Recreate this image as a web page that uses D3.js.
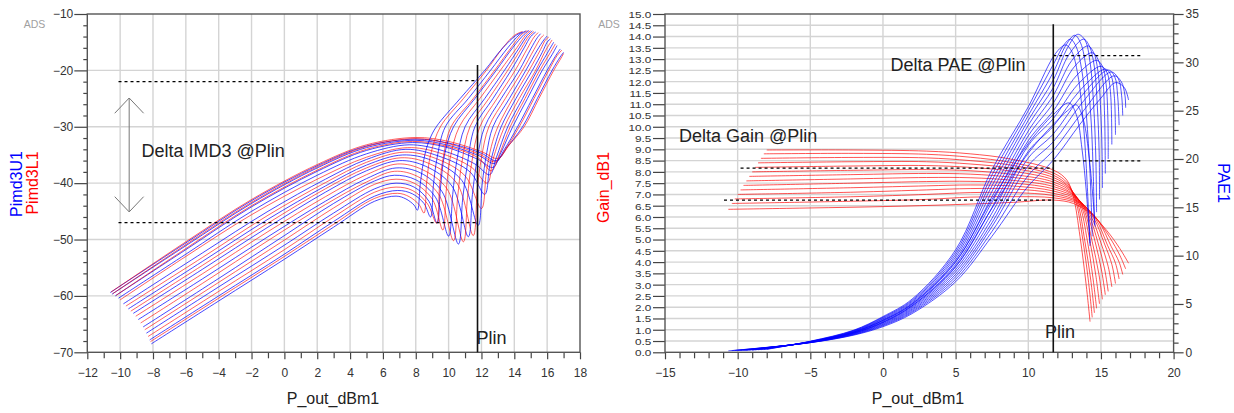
<!DOCTYPE html>
<html><head><meta charset="utf-8">
<script src="https://cdn.jsdelivr.net/npm/d3@7"></script>
<style>
body{margin:0;background:#fff;}
svg{display:block;font-family:"Liberation Sans",Arial,sans-serif;}
</style></head><body>
<svg id="c" width="1234" height="413"></svg>
<script>
// ---------------- DATA ----------------
// Left panel: x = P_out_dBm1, y = Pimd3U1 (blue) / Pimd3L1 (red), dBc
const leftXTicks = [-12,-10,-8,-6,-4,-2,0,2,4,6,8,10,12,14,16,18];
const leftYTicks = [-70,-60,-50,-40,-30,-20,-10];
const imd3U = [
 [[-10.6,-59.4],[-6,-50.6],[-2,-43.1],[2,-36.9],[5,-33.4],[8,-32.2],[10,-32.9],[12,-34.7],[12.9,-36.0],[13.6,-33.5],[14.5,-30],[15.4,-25],[16.3,-20],[16.8,-17.6],[17.0,-16.8]],
 [[-10.5,-59.7],[-6,-51.1],[-2,-43.6],[2,-37.3],[5,-33.7],[8,-32.4],[10,-33.3],[11.9,-35.2],[12.8,-36.5],[13.4,-34],[14.2,-30],[15.1,-25],[16.0,-20],[16.5,-17.5],[16.8,-16.2]],
 [[-10.3,-60.0],[-6,-51.8],[-2,-44.2],[2,-37.9],[5,-34.2],[7.8,-32.8],[9.8,-33.6],[11.8,-35.8],[12.7,-37.2],[13.2,-34.5],[13.9,-30],[14.8,-25],[15.7,-20],[16.3,-17.2],[16.6,-15.6]],
 [[-10.1,-60.4],[-6,-52.6],[-2,-45.0],[2,-38.6],[5,-34.8],[7.6,-33.2],[9.6,-34.2],[11.6,-36.6],[12.5,-38.5],[12.9,-35.5],[13.6,-30],[14.5,-25],[15.4,-20],[16.0,-17],[16.4,-15.0]],
 [[-9.8,-61.4],[-5,-52.4],[-1,-45.0],[2.5,-39.3],[5,-35.8],[7.4,-34.0],[9.4,-35.2],[11.3,-38.0],[12.2,-42.0],[12.5,-37],[12.8,-33.5],[13.2,-30],[14.1,-25],[15.1,-20],[15.7,-16.8],[16.0,-15.0],[16.2,-14.4]],
 [[-9.5,-62.3],[-5,-53.9],[-1,-46.4],[2.5,-40.5],[5,-36.8],[7.2,-35.0],[9,-36.0],[10.8,-39.5],[11.8,-47.5],[12.05,-40],[12.3,-35],[12.7,-30],[13.7,-25],[14.7,-20],[15.4,-16.4],[15.8,-14.6],[16.0,-13.9]],
 [[-9.2,-63.1],[-5,-55.3],[-1,-47.8],[2.5,-41.6],[5,-37.8],[7.0,-36.0],[8.6,-37.0],[10.2,-40.5],[11.2,-49.5],[11.45,-42],[11.75,-35.5],[12.2,-30],[13.2,-25],[14.3,-20],[15.0,-16.2],[15.4,-14.2],[15.6,-13.5]],
 [[-8.9,-64.2],[-5,-57.0],[-1,-49.5],[2.5,-43.2],[5,-39.2],[6.8,-37.3],[8.3,-38.2],[9.6,-41.5],[10.6,-50.8],[10.85,-43],[11.1,-37.5],[11.6,-30],[12.7,-25],[13.8,-20],[14.6,-16],[15.0,-14],[15.3,-13.2]],
 [[-8.6,-65.5],[-4,-56.9],[0,-49.3],[3,-43.6],[5.5,-39.6],[6.7,-38.6],[8,-39.4],[9.2,-42.5],[10.0,-49.4],[10.25,-42],[10.5,-36],[11.0,-30],[12.2,-25],[13.4,-20],[14.3,-16],[14.8,-13.8],[15.1,-13.0]],
 [[-8.4,-66.6],[-4,-58.4],[0,-51.0],[3,-45.3],[5.5,-41.0],[6.8,-40.0],[7.9,-40.7],[8.8,-43.2],[9.3,-47.1],[9.5,-41],[9.75,-35],[10.3,-30],[11.6,-25],[12.9,-20],[13.9,-16],[14.6,-13.6],[14.9,-12.9]],
 [[-8.2,-67.8],[-4,-60.0],[0,-52.6],[3,-46.8],[5.5,-42.3],[6.9,-41.3],[7.8,-41.9],[8.5,-43.6],[8.9,-46.0],[9.07,-40.5],[9.3,-35.5],[9.8,-30],[11.2,-25],[12.55,-20],[13.6,-16],[14.3,-13.7],[14.7,-13.0]],
 [[-8.1,-68.5],[-4,-60.9],[0,-53.5],[3,-47.8],[5.5,-43.2],[6.8,-42.3],[7.4,-42.8],[7.9,-43.9],[8.1,-44.8],[8.28,-40],[8.55,-35],[8.85,-32.2],[9.25,-30],[10.7,-25],[12.2,-20],[13.3,-16],[14.1,-13.8],[14.5,-13.2]]
];
const imd3L = [
 [[-10.55,-59.3],[-6,-50.4],[-2,-42.9],[2,-36.7],[5,-33.2],[8,-31.9],[10,-32.6],[12,-34.4],[13.0,-35.6],[13.7,-33.2],[14.6,-30],[15.5,-25],[16.4,-20],[16.85,-17.8],[17.0,-17.0]],
 [[-10.45,-59.6],[-6,-50.9],[-2,-43.4],[2,-37.1],[5,-33.5],[8,-32.1],[10,-33.0],[11.9,-34.9],[12.85,-36.2],[13.5,-33.8],[14.3,-30],[15.2,-25],[16.1,-20],[16.6,-17.4],[16.9,-16.4]],
 [[-10.25,-59.9],[-6,-51.6],[-2,-44.0],[2,-37.7],[5,-34.0],[7.8,-32.6],[9.8,-33.4],[11.8,-35.5],[12.6,-37.8],[13.1,-34.8],[13.75,-30],[14.65,-25],[15.55,-20],[16.2,-16.8],[16.5,-15.3]],
 [[-10.0,-60.7],[-6,-53.0],[-2,-45.6],[2,-39.3],[5,-35.4],[7.5,-33.7],[9.4,-34.6],[11.4,-37.2],[12.35,-40.0],[12.7,-35.8],[13.4,-30],[14.3,-25],[15.3,-20],[15.9,-16.5],[16.3,-14.6]],
 [[-9.65,-61.8],[-5,-53.2],[-1,-45.7],[2.5,-39.9],[5,-36.3],[7.3,-34.5],[9.2,-35.6],[11.0,-38.7],[12.0,-44.5],[12.3,-38],[12.6,-33.5],[13.0,-30],[13.9,-25],[14.9,-20],[15.6,-16.3],[15.9,-14.6],[16.1,-14.1]],
 [[-9.35,-62.7],[-5,-54.6],[-1,-47.1],[2.5,-41.0],[5,-37.3],[7.1,-35.5],[8.8,-36.5],[10.5,-40.0],[11.5,-49.3],[11.75,-41],[12.0,-35.5],[12.45,-30],[13.45,-25],[14.5,-20],[15.2,-16.3],[15.6,-14.3],[15.8,-13.7]],
 [[-9.05,-63.6],[-5,-56.1],[-1,-48.6],[2.5,-42.4],[5,-38.5],[6.9,-36.6],[8.4,-37.6],[9.9,-41.0],[10.9,-50.4],[11.15,-42.5],[11.4,-36.5],[11.9,-30],[12.95,-25],[14.05,-20],[14.8,-16.1],[15.2,-14.1],[15.45,-13.3]],
 [[-8.75,-64.8],[-5,-57.8],[-1,-50.2],[2.5,-43.8],[5,-39.8],[6.7,-37.9],[8.1,-38.8],[9.4,-42.0],[10.3,-50.2],[10.55,-42.5],[10.8,-36.5],[11.3,-30],[12.45,-25],[13.6,-20],[14.45,-16],[14.9,-13.9],[15.2,-13.1]],
 [[-8.5,-66.0],[-4,-57.6],[0,-50.1],[3,-44.4],[5.5,-40.2],[6.8,-39.3],[7.9,-40.0],[9.0,-42.8],[9.65,-48.3],[9.85,-41.5],[10.1,-35.5],[10.65,-30],[11.9,-25],[13.15,-20],[14.15,-16],[14.7,-13.7],[15.0,-12.95]],
 [[-8.3,-67.2],[-4,-59.2],[0,-51.8],[3,-46.0],[5.5,-41.6],[6.8,-40.7],[7.8,-41.3],[8.7,-43.6],[9.27,-47.1],[9.45,-40.5],[9.7,-35],[10.15,-30],[11.5,-25],[12.8,-20],[13.8,-16],[14.45,-13.6],[14.8,-12.95]],
 [[-8.15,-68.1],[-4,-60.4],[0,-53.0],[3,-47.3],[5.5,-42.7],[6.9,-41.8],[7.6,-42.4],[8.2,-43.8],[8.5,-45.3],[8.66,-40],[8.9,-35],[9.5,-30],[10.9,-25],[12.3,-20],[13.3,-16],[14.0,-13.8],[14.5,-13.1]]
];
const plinL = [[11.76,-19.05],[11.76,-70]];
const imdRefTopA = [[-10.1,-22.0],[8.1,-22.0]];
const imdRefTopB = [[8.1,-21.8],[11.76,-21.8]];
const imdRefBot = [[-10.1,-47.0],[11.76,-47.0]];
const imdArrow = [[-9.45,-24.9],[-9.45,-45.1]];
const imdArrowHeadTop = [[-10.33,-27.6],[-9.45,-24.9],[-8.57,-27.6]];
const imdArrowHeadBot = [[-10.33,-42.4],[-9.45,-45.1],[-8.57,-42.4]];

// Right panel: x = P_out_dBm1, left y = Gain_dB1 (red), right y = PAE1 (blue, %)
const rightXTicks = [-15,-10,-5,0,5,10,15,20];
const gainTicks = d3.range(0, 15.01, 0.5);
const paeTicks = [0,5,10,15,20,25,30,35];
const gainDB = [
 [[-8.0,8.97],[-2,8.97],[3,8.92],[6,8.8],[8.6,8.59],[11.73,8.08],[12.65,7.64],[13.1,6.9],[13.56,5.13],[14.0,2.9],[14.25,1.36]],
 [[-8.2,8.8],[-2,8.82],[3,8.78],[6,8.65],[8.8,8.42],[11.73,7.95],[12.7,7.5],[13.25,6.75],[13.75,5.0],[14.15,3.1],[14.4,1.55]],
 [[-8.4,8.6],[-2,8.64],[3,8.62],[6,8.5],[9,8.28],[11.73,7.85],[12.8,7.35],[13.4,6.6],[13.9,4.9],[14.3,3.2],[14.55,1.75]],
 [[-8.6,8.4],[-2,8.45],[3,8.45],[6,8.35],[9,8.15],[11.73,7.75],[12.9,7.25],[13.55,6.5],[14.05,5.0],[14.45,3.3],[14.7,1.95]],
 [[-8.8,8.2],[-2,8.26],[3,8.28],[6,8.2],[9,8.02],[11.73,7.65],[13.0,7.15],[13.7,6.4],[14.25,4.9],[14.65,3.4],[14.9,2.15]],
 [[-9.0,8.0],[-2,8.07],[3,8.1],[6,8.05],[9,7.88],[11.73,7.55],[13.1,7.05],[13.85,6.3],[14.4,4.9],[14.85,3.5],[15.1,2.35]],
 [[-9.2,7.8],[-2,7.88],[3,7.93],[6,7.9],[9,7.75],[11.73,7.45],[13.2,6.95],[14.0,6.2],[14.6,4.9],[15.05,3.6],[15.3,2.55]],
 [[-9.4,7.6],[-2,7.69],[3,7.75],[6,7.74],[9,7.62],[11.73,7.35],[13.3,6.88],[14.15,6.1],[14.8,4.85],[15.25,3.7],[15.5,2.7]],
 [[-9.6,7.4],[-2,7.5],[3,7.57],[6,7.58],[9,7.5],[11.73,7.25],[13.4,6.8],[14.3,6.05],[15.0,4.85],[15.5,3.8],[15.75,2.9]],
 [[-9.8,7.2],[-2,7.3],[3,7.38],[6,7.42],[9,7.37],[11.73,7.15],[13.5,6.72],[14.5,5.95],[15.25,4.8],[15.75,3.9],[16.0,3.05]],
 [[-10.0,7.0],[-2,7.1],[3,7.2],[6,7.26],[9,7.24],[11.73,7.05],[13.55,6.65],[14.65,5.9],[15.45,4.75],[16.0,3.95],[16.25,3.25]],
 [[-10.2,6.8],[-2,6.9],[3,7.0],[6,7.08],[9,7.08],[11.73,6.95],[13.6,6.6],[14.8,5.85],[15.7,4.7],[16.25,4.0],[16.5,3.45]],
 [[-10.4,6.6],[-2,6.7],[3,6.78],[6,6.88],[9,6.9],[11.73,6.85],[13.4,6.6],[14.6,6.0],[15.6,5.1],[16.3,4.3],[16.7,3.7]],
 [[-10.64,6.34],[-5,6.4],[0,6.46],[5,6.55],[9,6.65],[11.73,6.75],[13.1,6.6],[14.3,6.15],[15.4,5.4],[16.3,4.6],[16.9,3.95]]
];
const pae = [
 [[-8.0,0.3],[-5,1.15],[-2,2.3],[0,3.7],[2,5.5],[5,10.6],[7.5,18.9],[10,25.4],[11.73,30.6],[12.3,31.6],[12.6,31.8],[13.0,31.1],[13.4,28.8],[13.8,23.5],[14.05,17.5],[14.25,11.0]],
 [[-8.2,0.28],[-5,1.13],[-2,2.26],[0,3.62],[2,5.38],[5,10.35],[7.5,18.34],[10,25.0],[11.73,29.8],[12.5,31.9],[12.9,32.4],[13.3,31.6],[13.7,29.0],[14.0,24.5],[14.25,18.5],[14.4,12.0]],
 [[-8.4,0.27],[-5,1.11],[-2,2.22],[0,3.54],[2,5.27],[5,10.09],[7.5,17.78],[10,24.5],[11.73,29.0],[12.6,31.8],[13.2,32.8],[13.6,32.0],[14.0,29.2],[14.3,24.5],[14.45,19.5],[14.55,13.2]],
 [[-8.6,0.26],[-5,1.1],[-2,2.18],[0,3.46],[2,5.15],[5,9.84],[7.5,17.22],[10,24.0],[11.73,28.2],[12.7,31.5],[13.4,32.9],[13.9,32.3],[14.25,30.0],[14.5,25.5],[14.65,20],[14.7,14.5]],
 [[-8.8,0.25],[-5,1.08],[-2,2.14],[0,3.38],[2,5.04],[5,9.58],[7.5,16.65],[10,23.5],[11.73,27.4],[12.8,30.8],[13.8,32.4],[14.2,31.7],[14.55,29.5],[14.75,25.5],[14.88,20.5],[14.9,15.8]],
 [[-9.0,0.24],[-5,1.07],[-2,2.1],[0,3.3],[2,4.92],[5,9.33],[7.5,16.09],[10,22.9],[11.73,26.6],[13.0,30.2],[14.1,31.7],[14.5,31.0],[14.8,29.0],[15.0,24.5],[15.08,20.5],[15.1,17.0]],
 [[-9.2,0.23],[-5,1.06],[-2,2.06],[0,3.22],[2,4.81],[5,9.08],[7.5,15.53],[10,22.4],[11.73,25.8],[13.2,29.6],[14.4,31.0],[14.8,30.3],[15.1,28.5],[15.25,24.5],[15.3,18.5]],
 [[-9.4,0.22],[-5,1.05],[-2,2.02],[0,3.14],[2,4.69],[5,8.82],[7.5,14.97],[10,21.9],[11.73,25.0],[13.3,28.6],[14.7,30.2],[15.1,29.6],[15.35,27.8],[15.48,24.0],[15.5,20.0]],
 [[-9.6,0.21],[-5,1.04],[-2,1.98],[0,3.06],[2,4.58],[5,8.57],[7.5,14.41],[10,21.4],[11.73,24.2],[13.4,27.7],[15.0,29.6],[15.4,29.0],[15.65,27.0],[15.75,21.5]],
 [[-9.8,0.2],[-5,1.03],[-2,1.94],[0,2.98],[2,4.46],[5,8.32],[7.5,13.85],[10,20.8],[11.73,23.4],[13.5,27.0],[15.3,29.3],[15.7,28.6],[15.92,26.5],[16.0,22.5]],
 [[-10.0,0.19],[-5,1.02],[-2,1.9],[0,2.9],[2,4.35],[5,8.06],[7.5,13.4],[10,20.1],[11.73,22.6],[13.6,26.4],[15.5,29.2],[15.95,28.5],[16.15,26.5],[16.25,23.5]],
 [[-10.2,0.18],[-5,1.01],[-2,1.86],[0,2.82],[2,4.23],[5,7.81],[7.5,13.0],[10,19.3],[11.73,21.8],[13.7,25.8],[15.7,29.0],[16.2,28.3],[16.42,26.6],[16.5,24.5]],
 [[-10.4,0.17],[-5,1.0],[-2,1.82],[0,2.74],[2,4.12],[5,7.55],[7.5,12.5],[10,18.3],[11.73,20.9],[13.8,25.0],[15.9,28.6],[16.4,28.0],[16.65,26.6],[16.7,25.3]],
 [[-10.64,0.15],[-5,1.0],[-2,1.78],[0,2.65],[2,4.0],[5,7.3],[7.5,12.0],[10,17.2],[11.73,19.9],[13.56,23.6],[15.0,26.3],[16.0,27.9],[16.6,27.4],[16.9,26.1]],
 [[-9.0,0.24],[-5,1.1],[-2,2.1],[0,3.3],[2,5.0],[5,9.4],[7.5,15.8],[10,21.6],[11.73,24.6],[12.8,25.8],[13.3,24.6],[13.7,21.0],[14.0,16.5],[14.25,11.3]],
 [[-9.5,0.22],[-5,1.05],[-2,2.0],[0,3.1],[2,4.8],[5,8.9],[7.5,14.9],[10,20.6],[11.73,23.6],[12.7,25.0],[13.3,25.6],[13.8,24.0],[14.2,20.0],[14.45,16.0],[14.6,13.0]]
];
const plinR = [[11.72,14.55],[11.72,0]];
const gainRefTop = [[-9.8,8.17],[11.72,8.17]];
const gainRefBot = [[-10.94,6.75],[11.72,6.75]];
const paeRefTop = [[11.72,30.7],[17.9,30.7]];
const paeRefBot = [[11.72,19.8],[17.9,19.8]];

// ---------------- DRAW ----------------
const svg = d3.select("#c");
const FONT = '"Liberation Sans", Arial, sans-serif';
const BLUE = "#0000ff", RED = "#ff0000";

function styleAxis(sel, size) {
  sel.select(".domain").remove();
  sel.selectAll("line").attr("stroke", "#444").attr("stroke-width", 1.2);
  sel.selectAll("text").attr("font-size", size || 12).attr("fill", "#333").attr("font-family", FONT);
}

function gridLines(g, x, y, xg, yg) {
  const [x0, x1] = x.range(), [y0, y1] = y.range();
  g.append("g").selectAll("line").data(xg).join("line")
    .attr("x1", d => x(d)).attr("x2", d => x(d)).attr("y1", y0).attr("y2", y1)
    .attr("stroke", "#d4d4d4").attr("stroke-width", 1.4);
  g.append("g").selectAll("line").data(yg).join("line")
    .attr("y1", d => y(d)).attr("y2", d => y(d)).attr("x1", x0).attr("x2", x1)
    .attr("stroke", "#d4d4d4").attr("stroke-width", 1.4);
}

function frame(g, x, y) {
  const [x0, x1] = x.range(), [y0, y1] = y.range();
  g.append("rect").attr("x", x0).attr("y", y1).attr("width", x1 - x0).attr("height", y0 - y1)
    .attr("fill", "none").attr("stroke", "#555").attr("stroke-width", 1.4);
}

function curves(g, data, x, y, color, op, w) {
  const line = d3.line().x(d => x(d[0])).y(d => y(d[1])).curve(d3.curveCatmullRom.alpha(0.5));
  g.append("g").selectAll("path").data(data).join("path")
    .attr("d", line).attr("fill", "none").attr("stroke", color)
    .attr("stroke-width", w || 0.9).attr("stroke-opacity", op);
}
function seg(g, pts, x, y, opts) {
  const line = d3.line().x(d => x(d[0])).y(d => y(d[1]));
  g.append("path").attr("d", line(pts)).attr("fill", "none")
    .attr("stroke", opts.c || "#000").attr("stroke-width", opts.w || 1.3)
    .attr("stroke-dasharray", opts.dash || null);
}
function txt(g, s, px, py, opts) {
  const t = g.append("text").attr("x", px).attr("y", py).text(s)
    .attr("font-family", FONT).attr("font-size", opts.size || 18)
    .attr("fill", opts.fill || "#222").attr("text-anchor", opts.anchor || "start");
  if (opts.rot) t.attr("transform", `rotate(${opts.rot},${px},${py})`);
  return t;
}

// ===== LEFT PANEL =====
const xL = d3.scaleLinear([-12, 18], [87.3, 580]);
const yL = d3.scaleLinear([-70, -10], [352.3, 14]);
const gl = svg.append("g");
gridLines(gl, xL, yL, leftXTicks.slice(1, -1), leftYTicks.slice(1, -1));

gl.append("g").attr("transform", `translate(0,${yL.range()[0]})`)
  .call(d3.axisBottom(xL).tickValues(d3.range(-11, 18, 2)).tickSize(6).tickFormat(""))
  .call(s => styleAxis(s));
gl.append("g").attr("transform", `translate(0,${yL.range()[0]})`)
  .call(d3.axisBottom(xL).tickValues(leftXTicks).tickSize(7).tickPadding(9).tickFormat(d3.format("d")))
  .call(s => styleAxis(s));
gl.append("g").attr("transform", `translate(${xL.range()[0]},0)`)
  .call(d3.axisLeft(yL).tickValues(d3.range(-68, -10, 2).filter(v => v % 10 !== 0)).tickSize(4).tickFormat(""))
  .call(s => styleAxis(s));
gl.append("g").attr("transform", `translate(${xL.range()[0]},0)`)
  .call(d3.axisLeft(yL).tickValues(leftYTicks).tickSize(13).tickPadding(1).tickFormat(d3.format("d")))
  .call(s => styleAxis(s));

const glc = gl.append("g");
for (let i = 0; i < Math.max(imd3U.length, imd3L.length); i++) {
  if (imd3U[i]) curves(glc, [imd3U[i]], xL, yL, BLUE, 0.72, 1);
  if (imd3L[i]) curves(glc, [imd3L[i]], xL, yL, RED, 0.62, 1);
}
frame(gl, xL, yL);

seg(gl, imdRefTopA, xL, yL, { dash: "3,3", w: 1.3 });
seg(gl, imdRefTopB, xL, yL, { dash: "3,3", w: 1.3 });
seg(gl, imdRefBot, xL, yL, { dash: "3,3", w: 1.3 });
seg(gl, plinL, xL, yL, { w: 1.6, c: "#111" });
seg(gl, imdArrow, xL, yL, { w: 1, c: "#777" });
seg(gl, imdArrowHeadTop, xL, yL, { w: 1, c: "#777" });
seg(gl, imdArrowHeadBot, xL, yL, { w: 1, c: "#777" });

txt(gl, "Delta IMD3 @Plin", xL(-8.7), yL(-35.4), { size: 18 });
txt(gl, "Plin", xL(11.7), yL(-68.5), { size: 18 });
txt(gl, "ADS", 34.5, 27.5, { size: 10.5, fill: "#a0a0a0", anchor: "middle" });
txt(gl, "P_out_dBm1", 333, 404, { size: 16, anchor: "middle" });
txt(gl, "Pimd3U1", 22, 184, { size: 16, fill: BLUE, anchor: "middle", rot: -90 });
txt(gl, "Pimd3L1", 37.5, 183, { size: 16, fill: RED, anchor: "middle", rot: -90 });

// ===== RIGHT PANEL =====
const xR = d3.scaleLinear([-15, 20], [665, 1173.6]);
const yG = d3.scaleLinear([0, 15], [352.3, 14]);
const yP = d3.scaleLinear([0, 35], [352.3, 14]);
const gr = svg.append("g");
gridLines(gr, xR, yG, rightXTicks.slice(1, -1), gainTicks.slice(1, -1));

gr.append("g").attr("transform", `translate(0,${yG.range()[0]})`)
  .call(d3.axisBottom(xR).tickValues(d3.range(-14, 20, 1).filter(v => v % 5 !== 0)).tickSize(6).tickFormat(""))
  .call(s => styleAxis(s));
gr.append("g").attr("transform", `translate(0,${yG.range()[0]})`)
  .call(d3.axisBottom(xR).tickValues(rightXTicks).tickSize(7).tickPadding(9).tickFormat(d3.format("d")))
  .call(s => styleAxis(s));
gr.append("g").attr("transform", `translate(${xR.range()[0]},0)`)
  .call(d3.axisLeft(yG).tickValues(gainTicks).tickSize(12).tickPadding(1).tickFormat(d3.format(".1f")))
  .call(s => { styleAxis(s, 11.2); s.selectAll("text").attr("dy", "0.36em").attr("transform", "scale(1.05,0.84)"); });
gr.append("g").attr("transform", `translate(${xR.range()[1]},0)`)
  .call(d3.axisRight(yP).tickValues(d3.range(1, 35, 1).filter(v => v % 5 !== 0)).tickSize(5).tickFormat(""))
  .call(s => styleAxis(s));
gr.append("g").attr("transform", `translate(${xR.range()[1]},0)`)
  .call(d3.axisRight(yP).tickValues(paeTicks).tickSize(10).tickPadding(2).tickFormat(d3.format("d")))
  .call(s => styleAxis(s));

curves(gr, gainDB, xR, yG, RED, 0.75, 0.9);
curves(gr, pae, xR, yP, BLUE, 0.75, 0.9);
frame(gr, xR, yG);

seg(gr, gainRefTop, xR, yG, { dash: "3,3", w: 1.3 });
seg(gr, gainRefBot, xR, yG, { dash: "3,3", w: 1.3 });
seg(gr, paeRefTop, xR, yP, { dash: "3,3", w: 1.3 });
seg(gr, paeRefBot, xR, yP, { dash: "3,3", w: 1.3 });
seg(gr, plinR, xR, yG, { w: 1.6, c: "#111" });

txt(gr, "Delta PAE @Plin", 890.5, 71, { size: 18 });
txt(gr, "Delta Gain @Plin", 679, 141.7, { size: 18 });
txt(gr, "Plin", 1045, 338.3, { size: 18 });
txt(gr, "ADS", 609, 27.5, { size: 10.5, fill: "#a0a0a0", anchor: "middle" });
txt(gr, "P_out_dBm1", 918, 404, { size: 16, anchor: "middle" });
txt(gr, "Gain_dB1", 608.5, 187.5, { size: 16, fill: RED, anchor: "middle", rot: -90 });
txt(gr, "PAE1", 1218, 183, { size: 16, fill: BLUE, anchor: "middle", rot: 90 });
</script>
</body></html>
